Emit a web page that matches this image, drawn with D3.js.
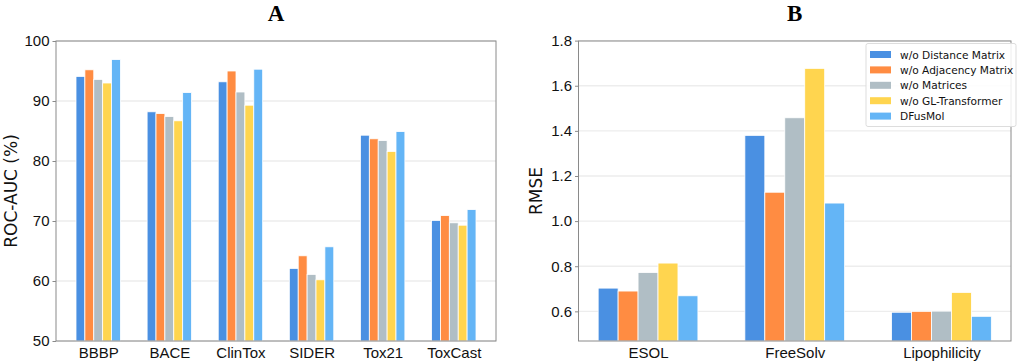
<!DOCTYPE html>
<html><head><meta charset="utf-8">
<script src="https://cdn.jsdelivr.net/npm/d3@7"></script>
<style>body{margin:0;background:#fff;} svg{display:block;font-family:"DejaVu Sans",sans-serif;}</style>
</head><body><svg id="c" width="1024" height="362"></svg>
<script>
const seriesNames = ["w/o Distance Matrix","w/o Adjacency Matrix","w/o Matrices","w/o GL-Transformer","DFusMol"];
const colors = ["#4a90e2","#ff8c42","#b0bec5","#ffd54f","#64b5f6"];

const catsA = ["BBBP","BACE","ClinTox","SIDER","Tox21","ToxCast"];
const aDist = [94.1, 88.2, 93.2, 62.1, 84.3, 70.1];
const aAdj  = [95.2, 87.9, 95.0, 64.2, 83.7, 70.9];
const aMat  = [93.6, 87.4, 91.5, 61.1, 83.4, 69.7];
const aGL   = [93.0, 86.7, 89.3, 60.2, 81.6, 69.3];
const aDF   = [96.9, 91.4, 95.3, 65.7, 84.9, 71.9];
const ticksA = [50, 60, 70, 80, 90, 100];

const catsB = ["ESOL","FreeSolv","Lipophilicity"];
const bDist = [0.703, 1.380, 0.596];
const bAdj  = [0.690, 1.128, 0.600];
const bMat  = [0.772, 1.458, 0.601];
const bGL   = [0.814, 1.677, 0.684];
const bDF   = [0.669, 1.080, 0.578];
const ticksB = [0.6, 0.8, 1.0, 1.2, 1.4, 1.6, 1.8];

const svg = d3.select("#c");

function panel(o){
  const g = svg.append("g");
  const n = o.cats.length;
  const bw = o.barW;
  const half = bw*2.5;
  const span = (n-1) + 2*half;
  const x = d3.scaleLinear().domain([-half - 0.05*span, (n-1)+half+0.05*span]).range([o.x0, o.x1]);
  const y = d3.scaleLinear().domain(o.yDomain).range([o.y1, o.y0]);
  // grid
  g.append("g").selectAll("line").data(o.ticks).join("line")
    .attr("x1", o.x0).attr("x2", o.x1)
    .attr("y1", d=>y(d)).attr("y2", d=>y(d))
    .attr("stroke","#ededed").attr("stroke-width",1.3);
  // bars
  o.series.forEach((vals, si)=>{
    g.append("g").selectAll("rect").data(vals).join("rect")
      .attr("x", (d,i)=>x(i + (si-2)*bw - bw/2))
      .attr("width", x(bw)-x(0))
      .attr("y", d=>y(d))
      .attr("height", d=>y(o.yDomain[0]) - y(d))
      .attr("fill", colors[si])
      .attr("stroke","#fff").attr("stroke-width",0.8);
  });
  // frame
  g.append("rect").attr("x",o.x0).attr("y",o.y0).attr("width",o.x1-o.x0).attr("height",o.y1-o.y0)
    .attr("fill","none").attr("stroke","#8a8a8a").attr("stroke-width",1);
  // y axis
  const ya = d3.axisLeft(y).tickValues(o.ticks).tickFormat(o.fmt).tickSize(3.5).tickPadding(3);
  const yg = g.append("g").attr("transform",`translate(${o.x0},0)`).call(ya);
  yg.select(".domain").remove();
  yg.selectAll(".tick line").attr("stroke","#8a8a8a");
  yg.selectAll("text").attr("font-size",15).attr("fill","#111");
  // x axis
  const xa = d3.axisBottom(x).tickValues(d3.range(n)).tickFormat(i=>o.cats[i]).tickSize(0).tickPadding(6);
  const xg = g.append("g").attr("transform",`translate(0,${o.y1})`).call(xa);
  xg.select(".domain").remove();
  xg.selectAll("text").attr("font-size",15).attr("fill","#111");
  // y title
  g.append("text").attr("transform",`translate(${o.ytX},${(o.y0+o.y1)/2}) rotate(-90)`)
    .attr("text-anchor","middle").attr("dominant-baseline","central")
    .attr("font-size",17).attr("fill","#111").text(o.ytitle);
  // panel title
  g.append("text").attr("x",(o.x0+o.x1)/2).attr("y",21).attr("text-anchor","middle")
    .attr("font-family","'Liberation Serif','DejaVu Serif',serif").attr("font-weight","bold")
    .attr("font-size",23).attr("fill","#000").text(o.title);
  return {g,x,y};
}

panel({cats:catsA, series:[aDist,aAdj,aMat,aGL,aDF], barW:0.125, x0:56, x1:496, y0:41, y1:341,
  yDomain:[50,100], ticks:ticksA, fmt:d3.format("d"), ytitle:"ROC-AUC (%)", ytX:10.5, title:"A"});

panel({cats:catsB, series:[bDist,bAdj,bMat,bGL,bDF], barW:0.136, x0:578.5, x1:1011, y0:41, y1:341,
  yDomain:[0.4686, 1.7983], ticks:ticksB, fmt:d3.format(".1f"), ytitle:"RMSE", ytX:536, title:"B"});

// legend
const lg = svg.append("g");
lg.append("rect").attr("x",866).attr("y",43.5).attr("width",150).attr("height",83).attr("rx",2)
  .attr("fill","#fff").attr("fill-opacity",0.85).attr("stroke","#dddddd").attr("stroke-width",1);
const items = lg.selectAll("g.it").data(seriesNames).join("g").attr("class","it")
  .attr("transform",(d,i)=>`translate(870,${54.5 + i*15.4})`);
items.append("rect").attr("x",0).attr("y",-3.5).attr("width",21).attr("height",7).attr("fill",(d,i)=>colors[i]);
items.append("text").attr("x",30).attr("y",0).attr("dominant-baseline","central")
  .attr("font-size",10.6).attr("fill","#111").text(d=>d);
</script></body></html>
